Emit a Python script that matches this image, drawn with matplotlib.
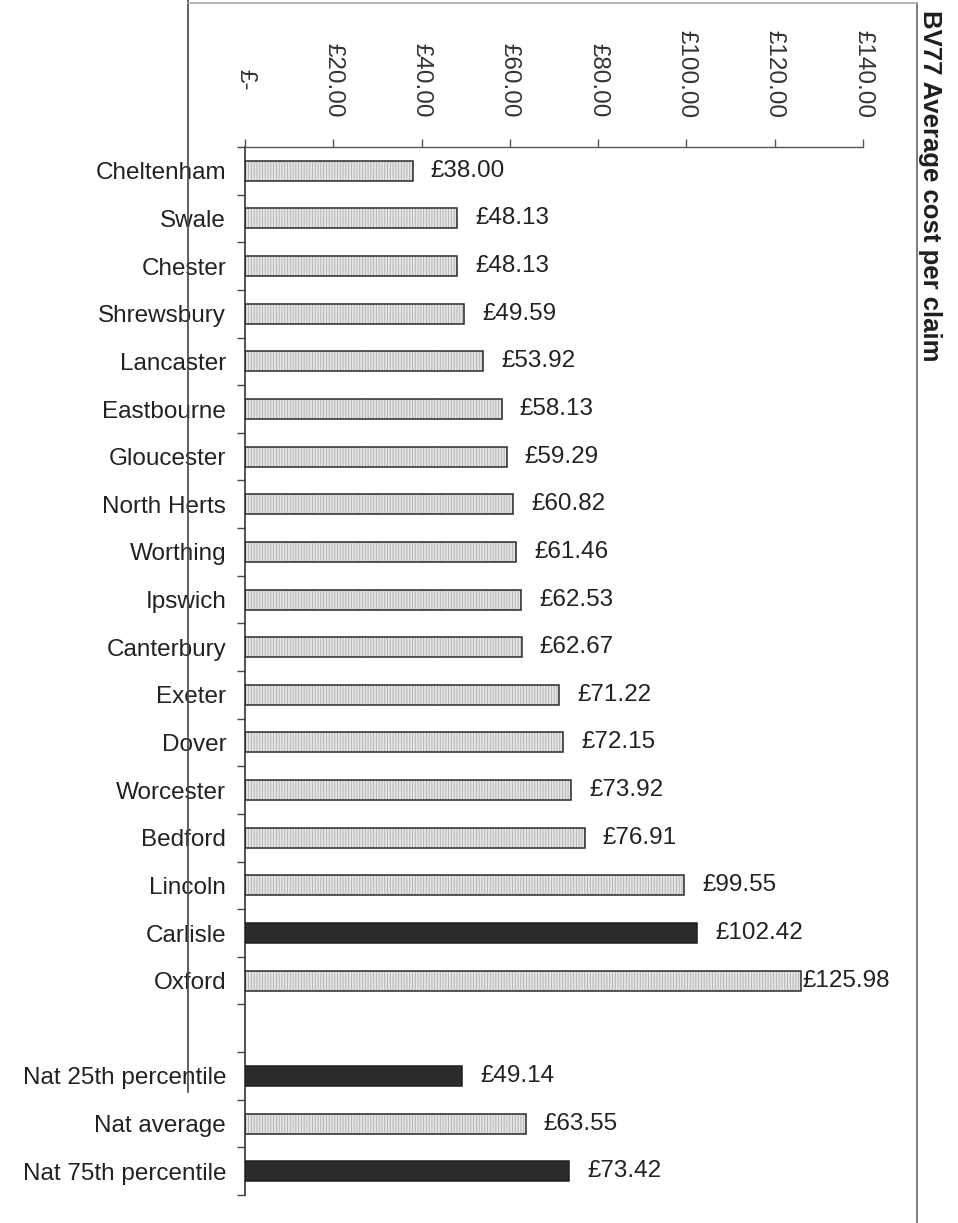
import matplotlib
matplotlib.use("Agg")
import matplotlib.pyplot as plt
from matplotlib.lines import Line2D
import numpy as np

# ---- data ----
authorities = ["Cheltenham", "Swale", "Chester", "Shrewsbury", "Lancaster",
               "Eastbourne", "Gloucester", "North Herts", "Worthing", "Ipswich",
               "Canterbury", "Exeter", "Dover", "Worcester", "Bedford",
               "Lincoln", "Carlisle", "Oxford"]
authority_values = [38.00, 48.13, 48.13, 49.59, 53.92, 58.13, 59.29, 60.82,
                    61.46, 62.53, 62.67, 71.22, 72.15, 73.92, 76.91, 99.55,
                    102.42, 125.98]
benchmarks = ["Nat 25th percentile", "Nat average", "Nat 75th percentile"]
benchmark_values = [49.14, 63.55, 73.42]
highlighted = ["Carlisle", "Nat 25th percentile", "Nat 75th percentile"]
x_ticks = [0, 20, 40, 60, 80, 100, 120, 140]
title = "BV77 Average cost per claim"

plt.rcParams['font.family'] = ['Liberation Sans', 'DejaVu Sans']
plt.rcParams['hatch.linewidth'] = 0.6

W, H = 958, 1223
fig = plt.figure(figsize=(W / 100, H / 100), dpi=100)
left_px, right_px, top_px, bot_px = 245, 863, 147, 1195
ax = fig.add_axes([left_px / W, 1 - bot_px / H, (right_px - left_px) / W, (bot_px - top_px) / H])

names = authorities + [""] + benchmarks
vals = authority_values + [None] + benchmark_values
n = len(names)
pos = np.arange(n)

txt_col = "#222222"
fs = 17.5
bh = 0.42
for p, name, v in zip(pos, names, vals):
    if v is None:
        continue
    if name in highlighted:
        ax.barh(p, v, height=bh, color="#2b2b2b", edgecolor="#1e1e1e", linewidth=1.1, zorder=3)
    else:
        ax.barh(p, v, height=bh, color="#e4e4e4", edgecolor="#b0b0b0", hatch="|" * 6,
                linewidth=0, zorder=2)
        ax.barh(p, v, height=bh, fill=False, edgecolor="#2a2a2a", linewidth=1.1, zorder=3)
    off = 1 if v > 120 else 13
    ax.annotate(f"£{v:.2f}", xy=(v, p), xytext=(off, 0), textcoords="offset points",
                ha="left", va="center", fontsize=fs, color=txt_col)

ax.set_xlim(0, 140)
ax.set_ylim(n - 0.5, -0.5)

# category axis
ax.set_yticks(pos)
ax.set_yticklabels(names, fontsize=fs, color=txt_col)
ax.tick_params(axis="y", which="major", length=0, pad=13.5)
ax.set_yticks(np.arange(-0.5, n, 1.0), minor=True)
ax.tick_params(axis="y", which="minor", length=6, width=1.0, color="#444444", direction="out")

# value axis on top
ax.xaxis.tick_top()
ax.set_xticks(x_ticks)
ax.set_xticklabels([])
ax.tick_params(axis="x", which="major", length=6, width=1.0, color="#555555", direction="out")
for t in x_ticks:
    lab = "£-" if t == 0 else f"£{t:.2f}"
    off = 41 if t == 0 else 21
    ax.annotate(lab, xy=(t, 1), xycoords=("data", "axes fraction"), xytext=(0, off),
                textcoords="offset points", rotation=270, ha="center", va="bottom",
                fontsize=fs, color="#333333")

for s in ["right", "bottom"]:
    ax.spines[s].set_visible(False)
ax.spines["top"].set_color("#555555")
ax.spines["left"].set_color("#333333")
ax.spines["top"].set_linewidth(1.0)
ax.spines["left"].set_linewidth(1.2)

# title
fig.text(930 / W, 1 - 10 / H, title, rotation=270, ha="center", va="top",
         fontsize=18.5, fontweight="bold", color="#1e1e1e")

# page frame lines from the scan
fig.add_artist(Line2D([188 / W, 188 / W], [1, 1 - 1092 / H], transform=fig.transFigure,
                      color="#444444", lw=1.2))
fig.add_artist(Line2D([917 / W, 917 / W], [1 - 3 / H, 0], transform=fig.transFigure,
                      color="#666666", lw=1.2))
fig.add_artist(Line2D([188 / W, 917 / W], [1 - 3 / H, 1 - 3 / H], transform=fig.transFigure,
                      color="#aaaaaa", lw=1.2))

fig.savefig("out.png", dpi=100, facecolor="white")
